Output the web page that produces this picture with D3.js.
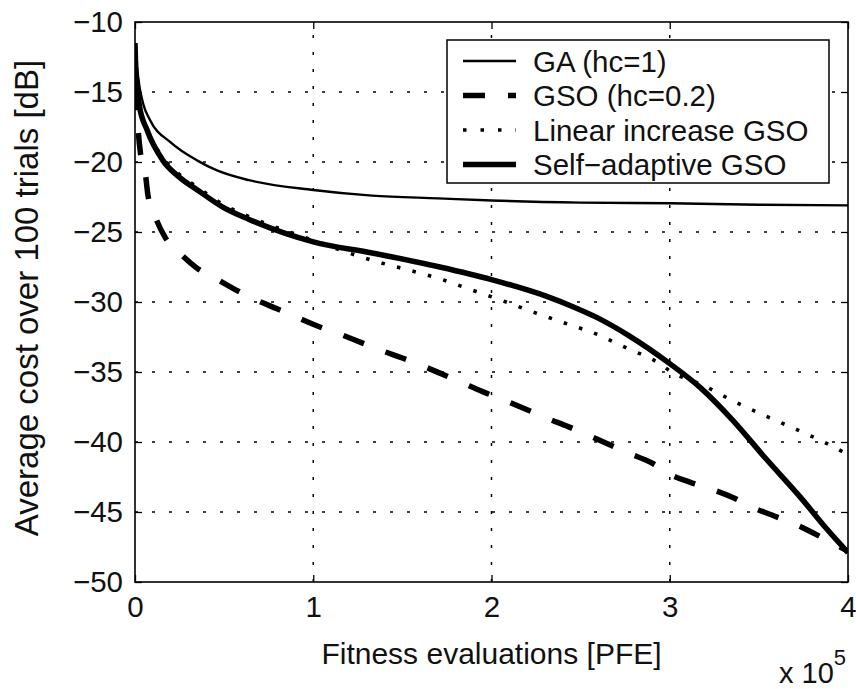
<!DOCTYPE html>
<html><head><meta charset="utf-8">
<script src="https://cdn.jsdelivr.net/npm/d3@7"></script>
<style>
body{margin:0;background:#fff;}
text{font-family:"Liberation Sans",Arial,sans-serif;fill:#111;}
</style></head>
<body><svg id="c" width="856" height="689"></svg>
<script>
// ---- data ----
const xTicks = [0, 1, 2, 3, 4];
const yTicks = [-10, -15, -20, -25, -30, -35, -40, -45, -50];
const seriesNames = ["GA (hc=1)", "GSO (hc=0.2)", "Linear increase GSO", "Self\u2212adaptive GSO"];

const gaX = [0,0.01,0.025,0.045,0.084,0.2,0.35,0.46,0.64,1,1.33,1.7,2,2.5,3,3.5,4];
const gaY = [-11.5,-13,-14.6,-15.8,-17,-18.6,-19.9,-20.6,-21.3,-22,-22.4,-22.6,-22.75,-22.9,-22.95,-23.05,-23.1];

const gsoX = [0,0.008,0.03,0.056,0.073,0.11,0.17,0.25,0.35,0.45,0.59,0.67,0.8,0.91,1.02,1.15,1.27,1.39,1.5,1.64,1.84,1.95,2.07,2.2,2.31,2.43,2.54,2.77,2.9,3.0,3.12,3.24,3.36,3.47,3.59,3.71,3.82,4];
const gsoY = [-11.5,-15,-19.3,-20.6,-22.4,-23.8,-25.4,-26.5,-27.6,-28.3,-29.3,-29.8,-30.5,-31.1,-31.7,-32.3,-32.9,-33.5,-34,-34.7,-35.8,-36.4,-37,-37.7,-38.3,-38.9,-39.5,-40.8,-41.5,-42.3,-42.9,-43.4,-44,-44.7,-45.3,-45.9,-46.6,-47.8];

const linX = [0,0.01,0.025,0.067,0.157,0.25,0.35,0.49,0.64,1,1.2,1.38,1.56,1.7,1.88,2.06,2.23,2.41,2.59,2.76,2.93,3.01,3.18,3.36,3.53,3.71,3.88,4];
const linY = [-12.5,-14.3,-15.9,-17.6,-19.7,-20.9,-21.8,-23.0,-23.9,-25.6,-26.5,-27.2,-27.8,-28.3,-29.1,-29.9,-30.7,-31.5,-32.3,-33.3,-34.3,-35.0,-35.9,-37.1,-38.1,-39.1,-40.1,-40.9];

const sagX = [0,0.01,0.025,0.067,0.157,0.25,0.35,0.49,0.64,1,1.33,1.71,2,2.31,2.45,2.59,2.77,3.0,3.17,3.35,3.54,3.73,3.88,4];
const sagY = [-12.5,-14.5,-16,-17.7,-19.9,-21.1,-22.0,-23.2,-24.1,-25.7,-26.5,-27.5,-28.4,-29.6,-30.3,-31.1,-32.4,-34.4,-36.1,-38.4,-41.2,-43.9,-46.2,-47.9];

// ---- layout ----
const svg = d3.select("#c");
const L = 135, R = 848, T = 22, B = 582;
const x = d3.scaleLinear().domain([0, 4]).range([L, R]);
const y = d3.scaleLinear().domain([-50, -10]).range([B, T]);

// grid
const grid = svg.append("g").attr("stroke", "#000").attr("stroke-width", 1.5).attr("stroke-dasharray", "3,14");
grid.selectAll(".gx").data(xTicks.slice(1, -1)).enter().append("line")
  .attr("x1", d => x(d)).attr("x2", d => x(d)).attr("y1", B).attr("y2", T);
grid.selectAll(".gy").data(yTicks.slice(1, -1)).enter().append("line")
  .attr("y1", d => y(d)).attr("y2", d => y(d)).attr("x1", L).attr("x2", R);

// series
const line = d3.line().x(d => x(d[0])).y(d => y(d[1])).curve(d3.curveMonotoneX);
const zip = (a, b) => a.map((v, i) => [v, b[i]]);
const styles = [
  {data: zip(gaX, gaY), w: 2.4, dash: null},
  {data: zip(gsoX, gsoY), w: 5.5, dash: "22,23"},
  {data: zip(linX, linY), w: 3.6, dash: "3.5,12.5"},
  {data: zip(sagX, sagY), w: 5.5, dash: null}
];
const plot = svg.append("g");
plot.append("clipPath").attr("id", "clip").append("rect").attr("x", L).attr("y", T).attr("width", R - L).attr("height", B - T);
styles.forEach(s => {
  plot.append("path").attr("d", line(s.data)).attr("fill", "none").attr("stroke", "#000")
    .attr("stroke-width", s.w).attr("stroke-dasharray", s.dash).attr("clip-path", "url(#clip)");
});

// axes
const fmt = d => d3.format("d")(d).replace("-", "\u2212");
const ax = svg.append("g").attr("transform", `translate(0,${B})`)
  .call(d3.axisBottom(x).tickValues(xTicks).tickSize(-7).tickPadding(14).tickFormat(d => d));
const ay = svg.append("g").attr("transform", `translate(${L},0)`)
  .call(d3.axisLeft(y).tickValues(yTicks).tickSize(-7).tickPadding(12).tickFormat(fmt));
const axTop = svg.append("g").attr("transform", `translate(0,${T})`)
  .call(d3.axisTop(x).tickValues(xTicks).tickSize(-7).tickFormat(""));
const ayR = svg.append("g").attr("transform", `translate(${R},0)`)
  .call(d3.axisRight(y).tickValues(yTicks).tickSize(-7).tickFormat(""));
[ax, ay, axTop, ayR].forEach(g => {
  g.select(".domain").remove();
  g.selectAll(".tick line").attr("stroke", "#000").attr("stroke-width", 1.3);
  g.selectAll("text").attr("font-size", 29.5).attr("fill", "#111").attr("font-family", "Liberation Sans, Arial, sans-serif");
});
svg.append("rect").attr("x", L).attr("y", T).attr("width", R - L).attr("height", B - T)
  .attr("fill", "none").attr("stroke", "#000").attr("stroke-width", 1.6);

// axis titles
svg.append("text").attr("x", (L + R) / 2).attr("y", 664).attr("text-anchor", "middle")
  .attr("font-size", 30).text("Fitness evaluations [PFE]");
svg.append("text").attr("transform", `translate(38,298) rotate(-90)`).attr("text-anchor", "middle")
  .attr("font-size", 33).text("Average cost over 100 trials [dB]");
const ex = svg.append("text").attr("x", 779).attr("y", 683).attr("font-size", 29);
ex.append("tspan").text("x 10");
ex.append("tspan").attr("dy", -18).attr("font-size", 22).text("5");

// legend
const lg = svg.append("g");
lg.append("rect").attr("x", 447).attr("y", 40).attr("width", 382).attr("height", 143)
  .attr("fill", "#fff").attr("stroke", "#000").attr("stroke-width", 1.5);
const rowY = [61, 95.5, 130, 164.5];
seriesNames.forEach((n, i) => {
  lg.append("line").attr("x1", 463).attr("x2", 516).attr("y1", rowY[i]).attr("y2", rowY[i])
    .attr("stroke", "#000").attr("stroke-width", styles[i].w).attr("stroke-dasharray", i === 2 ? "3.5,14" : styles[i].dash);
  lg.append("text").attr("x", 533).attr("y", rowY[i] + 10.5).attr("font-size", 29.5).text(n);
});
</script></body></html>
